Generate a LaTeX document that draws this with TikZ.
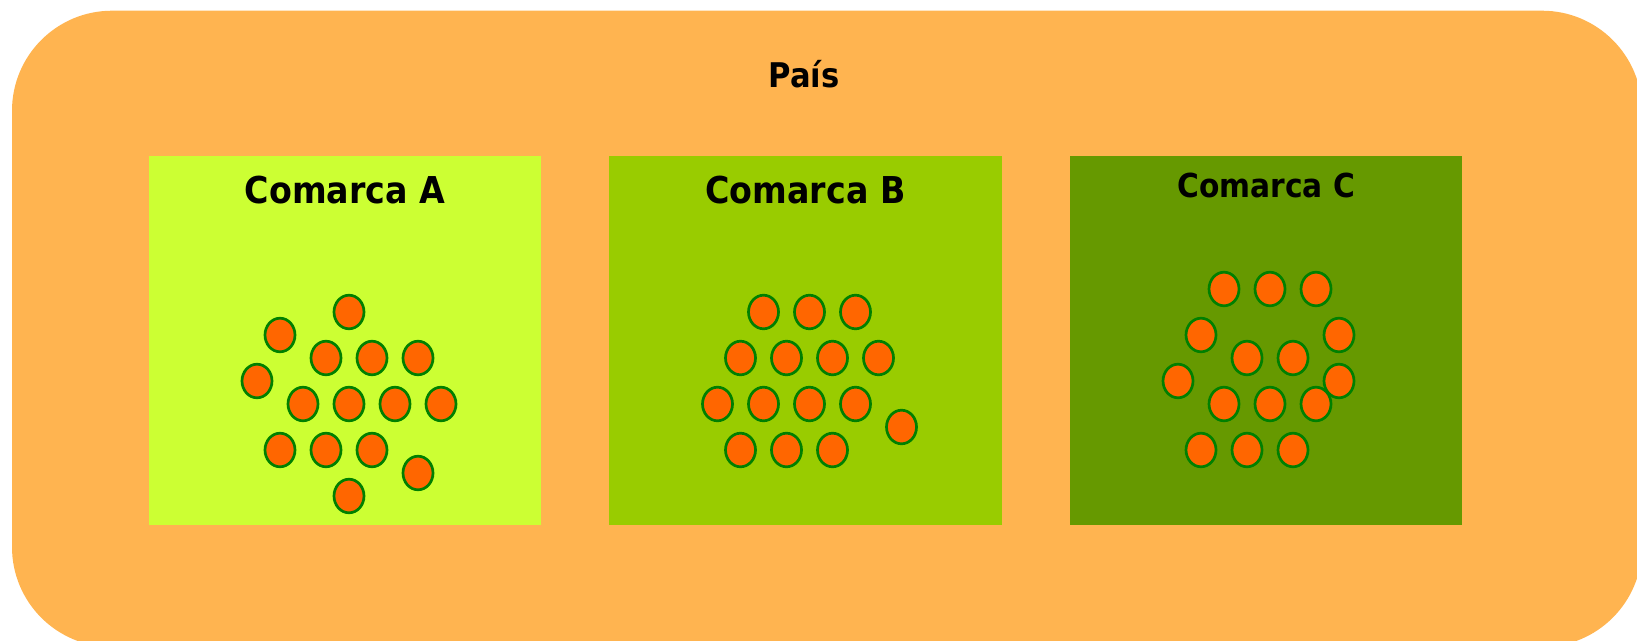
\documentclass[tikz,border=0pt]{standalone}
\usepackage{fontspec}
\newfontfamily\labelfont{DejaVu Sans}[FakeStretch=0.9]
\definecolor{paisorange}{HTML}{FFB450}
\definecolor{comarcaA}{HTML}{CCFF33}
\definecolor{comarcaB}{HTML}{99CC00}
\definecolor{comarcaC}{HTML}{669900}
\definecolor{dotorange}{HTML}{FF6600}
\definecolor{dotgreen}{HTML}{008000}

\begin{document}
\begin{tikzpicture}[x=1pt,y=-1pt,
        title/.style={anchor=base,inner sep=0pt,font=\labelfont\bfseries\fontsize{37}{40}\selectfont},
        dot/.style={fill=dotorange,draw=dotgreen,line width=2.7pt}]
    \useasboundingbox (0,0) rectangle (1637,640);
    % pais
    \fill[paisorange,rounded corners=100pt] (12,10.7) rectangle (1642,647);
    \node[title,font=\labelfont\bfseries\fontsize{34}{38}\selectfont] (pais) at (804,87) {País};
    % comarcas
    \fill[comarcaA] (149,156) rectangle (541,525);
    \fill[comarcaB] (609,156) rectangle (1002,525);
    \fill[comarcaC] (1070,156) rectangle (1462,525);
    \node[title] (labelA) at (345,203) {Comarca A};
    \node[title] (labelB) at (805.5,203) {Comarca B};
    \node[title,font=\labelfont\bfseries\fontsize{33}{36}\selectfont] (labelC) at (1266,197) {Comarca C};
    % habitantes
    \foreach \i/\j in {4/0,1/1,3/2,5/2,7/2,0/3,2/4,4/4,6/4,8/4,1/6,3/6,5/6,7/7,4/8}
        \filldraw[dot] ({257+23*\i},{312+23*\j}) ellipse [x radius=15pt,y radius=16.8pt];
    \foreach \i/\j in {2/0,4/0,6/0,1/2,3/2,5/2,7/2,0/4,2/4,4/4,6/4,8/5,1/6,3/6,5/6}
        \filldraw[dot] ({717.5+23*\i},{312+23*\j}) ellipse [x radius=15pt,y radius=16.8pt];
    \foreach \i/\j in {2/-1,4/-1,6/-1,1/1,7/1,3/2,5/2,0/3,7/3,2/4,4/4,6/4,1/6,3/6,5/6}
        \filldraw[dot] ({1178+23*\i},{312+23*\j}) ellipse [x radius=15pt,y radius=16.8pt];
\end{tikzpicture}
\end{document}
